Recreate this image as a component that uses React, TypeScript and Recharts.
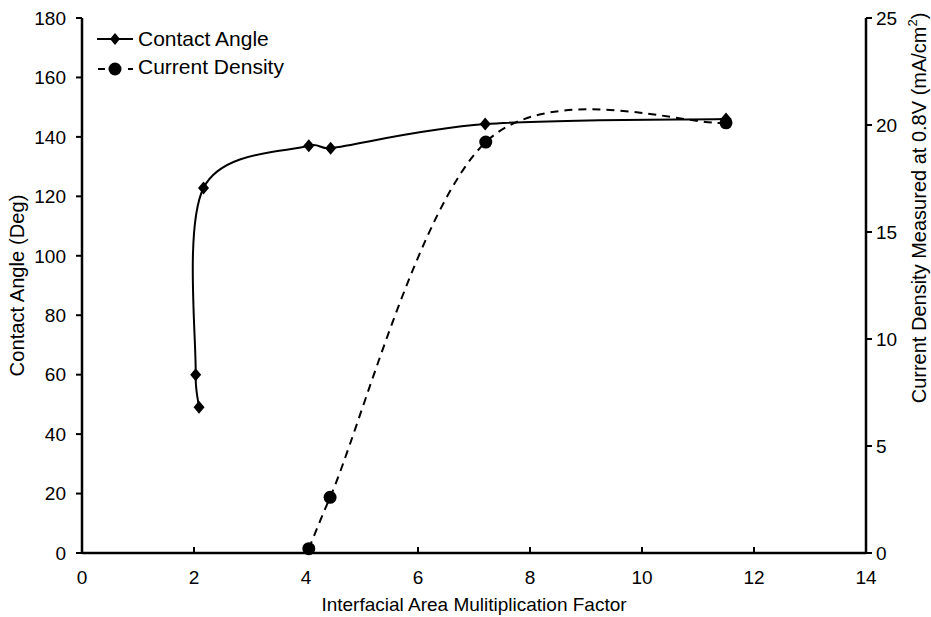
import React from 'react';
import { ComposedChart, Line, XAxis, YAxis, Legend } from 'recharts';

const FONT = '"Liberation Sans", Arial, sans-serif';

const xTicks = [0, 2, 4, 6, 8, 10, 12, 14];
const angleTicks = [0, 20, 40, 60, 80, 100, 120, 140, 160, 180];
const densityTicks = [0, 5, 10, 15, 20, 25];

// Contact angle (deg) vs interfacial area factor, in plotted order
const angleFactor = [2.09, 2.03, 2.17, 4.05, 4.44, 7.2, 11.5];
const contactAngle = [49, 60, 122.8, 137, 136.2, 144.3, 146];

// Current density (mA/cm2) vs interfacial area factor
const densityFactor = [4.05, 4.43, 7.21, 11.5];
const currentDensity = [0.2, 2.6, 19.2, 20.1];

const angleData = angleFactor.map((x, i) => ({ x, y: contactAngle[i] }));
const densityData = densityFactor.map((x, i) => ({ x, y: currentDensity[i] }));

const dist = (a: number[], b: number[]) => Math.hypot(a[0] - b[0], a[1] - b[1]);

// spreadsheet-like smoothed line: bezier through the points,
// control arms 1/6 of the neighbour chord, capped at half the segment
const smoothCurve = (context: any) => {
  let pts: number[][] = [];
  return {
    areaStart() {},
    areaEnd() {},
    lineStart() {
      pts = [];
    },
    point(x: number, y: number) {
      pts.push([+x, +y]);
    },
    lineEnd() {
      const n = pts.length;
      if (!n) return;
      context.moveTo(pts[0][0], pts[0][1]);
      for (let i = 0; i < n - 1; i++) {
        const p0 = pts[Math.max(i - 1, 0)];
        const p1 = pts[i];
        const p2 = pts[i + 1];
        const p3 = pts[Math.min(i + 2, n - 1)];
        const d12 = dist(p1, p2);
        const d02 = dist(p0, p2);
        const d13 = dist(p1, p3);
        const f1 = d02 / 6 < d12 / 2 ? 1 / 6 : d12 / (2 * d02);
        const f2 = d13 / 6 < d12 / 2 ? 1 / 6 : d12 / (2 * d13);
        context.bezierCurveTo(
          p1[0] + (p2[0] - p0[0]) * f1,
          p1[1] + (p2[1] - p0[1]) * f1,
          p2[0] - (p3[0] - p1[0]) * f2,
          p2[1] - (p3[1] - p1[1]) * f2,
          p2[0],
          p2[1]
        );
      }
    },
  };
};

const Diamond = (props: any) => {
  const { cx, cy, index } = props;
  if (cx == null || cy == null) return <g key={`d-${index}`} />;
  return (
    <polygon
      key={`d-${index}`}
      points={`${cx},${cy - 6.5} ${cx + 5.5},${cy} ${cx},${cy + 6.5} ${cx - 5.5},${cy}`}
      fill="#000"
    />
  );
};

const Dot = (props: any) => {
  const { cx, cy, index } = props;
  if (cx == null || cy == null) return <g key={`c-${index}`} />;
  return <circle key={`c-${index}`} cx={cx} cy={cy} r={6.5} fill="#000" />;
};

const LegendBox = () => (
  <svg width={230} height={60} style={{ display: 'block', overflow: 'visible' }}>
    <line x1={0} y1={10} x2={36} y2={10} stroke="#000" strokeWidth={2} />
    <polygon points="18,4 23,10 18,16 13,10" fill="#000" />
    <text x={41} y={11} dominantBaseline="middle" fontSize={21} fontFamily={FONT} fill="#000">
      Contact Angle
    </text>
    <line x1={0} y1={40} x2={36} y2={40} stroke="#000" strokeWidth={2} strokeDasharray="7 8" strokeDashoffset={-1} />
    <circle cx={18} cy={40} r={6.5} fill="#000" />
    <text x={41} y={39} dominantBaseline="middle" fontSize={21} fontFamily={FONT} fill="#000">
      Current Density
    </text>
  </svg>
);

const tickStyle = { fill: '#000', fontSize: 19, fontFamily: FONT };

export default function App() {
  return (
    <div style={{ position: 'absolute', left: 0, top: 0, width: 931, height: 617, background: '#fff' }}>
      <ComposedChart
        width={931}
        height={617}
        margin={{ top: 18, right: 15, bottom: 14, left: 22 }}
      >
        <XAxis
          dataKey="x"
          type="number"
          domain={[0, 14]}
          ticks={xTicks}
          height={50}
          tick={tickStyle}
          tickSize={-6}
          tickMargin={24}
          tickLine={{ stroke: '#000', strokeWidth: 2 }}
          axisLine={{ stroke: '#000', strokeWidth: 2.5 }}
          label={{
            content: (p: any) => {
              const { x, y, width } = p.viewBox;
              return (
                <text x={x + width / 2} y={y + 53} textAnchor="middle" dominantBaseline="middle" fontSize={19} fontFamily={FONT} fill="#000">
                  Interfacial Area Mulitiplication Factor
                </text>
              );
            },
          }}
        />
        <YAxis
          yAxisId="left"
          orientation="left"
          type="number"
          domain={[0, 180]}
          ticks={angleTicks}
          width={60}
          tick={tickStyle}
          tickSize={6}
          tickMargin={10}
          tickLine={{ stroke: '#000', strokeWidth: 2 }}
          axisLine={{ stroke: '#000', strokeWidth: 2.5 }}
          label={{
            content: (p: any) => {
              const { y, height } = p.viewBox;
              const cx = 19;
              const cy = y + height / 2;
              return (
                <text x={cx} y={cy} transform={`rotate(-90 ${cx} ${cy})`} textAnchor="middle" dominantBaseline="middle" fontSize={20.2} fontFamily={FONT} fill="#000">
                  Contact Angle (Deg)
                </text>
              );
            },
          }}
        />
        <YAxis
          yAxisId="right"
          orientation="right"
          type="number"
          domain={[0, 25]}
          ticks={densityTicks}
          width={50}
          tick={tickStyle}
          tickSize={6}
          tickMargin={4}
          tickLine={{ stroke: '#000', strokeWidth: 2 }}
          axisLine={{ stroke: '#000', strokeWidth: 2.5 }}
          label={{
            content: (p: any) => {
              const { y, height } = p.viewBox;
              const cx = 921;
              // the title sits in the upper part of the axis in the figure
              const cy = y + height * 0.355;
              return (
                <text x={cx} y={cy} transform={`rotate(-90 ${cx} ${cy})`} textAnchor="middle" dominantBaseline="middle" fontSize={20} fontFamily={FONT} fill="#000">
                  Current Density Measured at 0.8V (mA/cm
                  <tspan fontSize={13} dy={-7}>2</tspan>
                  <tspan dy={7}>)</tspan>
                </text>
              );
            },
          }}
        />
        <Legend
          layout="vertical"
          align="center"
          verticalAlign="middle"
          wrapperStyle={{ left: 97, top: 29, width: 230, height: 60 }}
          content={() => <LegendBox />}
        />
        <Line
          yAxisId="left"
          data={angleData}
          dataKey="y"
          name="Contact Angle"
          type={smoothCurve as any}
          stroke="#000"
          strokeWidth={2}
          dot={Diamond}
          activeDot={false}
          isAnimationActive={false}
        />
        <Line
          yAxisId="right"
          data={densityData}
          dataKey="y"
          name="Current Density"
          type={smoothCurve as any}
          stroke="#000"
          strokeWidth={2}
          strokeDasharray="8 6"
          dot={Dot}
          activeDot={false}
          isAnimationActive={false}
        />
      </ComposedChart>
    </div>
  );
}
